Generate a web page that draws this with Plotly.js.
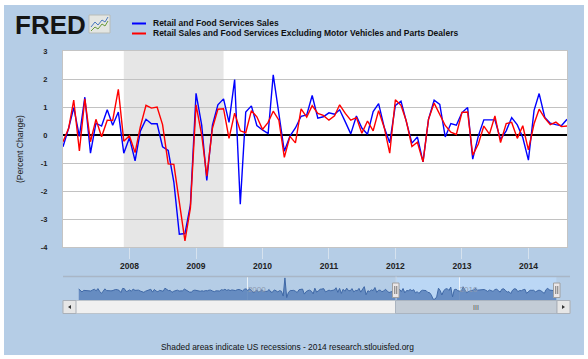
<!DOCTYPE html>
<html><head><meta charset="utf-8">
<script src="https://cdn.plot.ly/plotly-3.0.1.min.js"></script>
<style>
html,body{margin:0;padding:0;background:#fff;}
#wrap{position:absolute;left:0;top:0;width:588px;height:359px;background:#fff;overflow:hidden;}
#chart{position:absolute;left:4px;top:5px;width:580px;height:350px;}
</style></head><body><div id="wrap"><div id="chart"></div></div>
<script>
// ---- data (monthly percent change) ----
const startMonth = '2007-01';
const retailSales = [
 -0.42, 0.24, 0.98, -0.05, 1.35, -0.65, 0.42, 0.32, 0.9, 0.35, 0.82, -0.65,
 -0.1, -0.92, 0.14, 0.56, 0.4, 0.4, -0.42, -0.55, -1.68, -3.54, -3.52, -2.5,
 1.49, 0.35, -1.62, 0.35, 1.08, 1.29, 0.45, 1.98, -2.47, 0.82, 1.04, 0.34,
 0.18, 0.05, 2.15, 0.8, -0.58, -0.04, 0.25, 0.67, 0.72, 1.41, 0.6, 0.65,
 0.79, 0.74, 0.9, 0.47, 0.04, 0.68, 0.25, 0.03, 0.84, 1.12, 0.27, -0.28,
 1.06, 1.21, 0.5, -0.29, -0.07, -0.96, 0.56, 1.24, 1.09, -0.07, 0.41, 0.35,
 0.8, 0.98, -0.86, -0.03, 0.54, 0.53, 0.54, -0.16, 0.15, 0.62, 0.36, -0.09,
 -0.9, 0.88, 1.48, 0.63, 0.42, 0.37, 0.33, 0.56
];
const retailExAuto = [
 -0.24, 0.24, 1.25, -0.57, 1.29, -0.24, 0.56, -0.06, 0.53, 0.52, 1.63, -0.22,
 -0.03, -0.63, 0.3, 1.06, 0.96, 1.0, 0.37, -1.03, -1.05, -2.38, -3.78, -2.6,
 1.08, 0.0, -1.47, 0.24, 0.92, 0.94, -0.12, 0.78, 0.15, 0.08, 0.87, 0.65,
 0.2, 0.45, 0.85, 0.53, -0.8, -0.05, -0.28, 0.93, 0.64, 1.05, 0.77, 0.7,
 0.53, 0.69, 1.08, 0.77, 0.53, 0.62, 0.06, 0.5, 0.15, 0.87, 0.26, -0.65,
 1.26, 1.06, 0.5, -0.41, -0.26, -0.96, 0.56, 1.14, 0.73, 0.34, 0.1, 0.02,
 0.81, 0.82, -0.72, -0.32, 0.32, 0.03, 0.68, -0.27, 0.41, 0.45, -0.12, 0.33,
 -0.53, 0.4, 0.92, 0.6, 0.37, 0.46, 0.3, 0.32
];
// navigator history of the first series, Jan 1992 - Dec 2006
const navStartMonth = '1992-01';
const retailSalesHistory = [
 1.2, 0.6, -0.2, 0.5, 0.4, 0.6, 0.3, 0.2, 0.7, 1.0, 0.3, 1.3,
 0.0, -0.9, 0.1, 1.2, 0.4, 0.5, 0.3, 0.3, 0.6, 0.9, 0.8, 0.5,
 -0.5, 1.4, 1.3, 0.0, 0.2, 0.7, 0.1, 1.1, 0.5, 0.6, 0.6, 0.2,
 -0.3, -0.4, 0.1, 0.4, 0.5, 1.0, -0.3, 0.9, 0.2, -0.1, 0.5, 0.4,
 0.1, 1.5, 0.8, 0.4, 0.5, -0.4, 0.1, 0.3, 0.6, 0.2, 0.1, 0.3,
 1.1, 0.6, 0.2, -0.3, -0.3, 0.4, 0.6, 0.4, 0.2, 0.1, 0.3, 0.1,
 0.4, 0.3, 0.6, 0.6, 0.2, -0.1, 0.3, 0.4, 0.2, 0.8, 0.6, 1.0,
 0.5, 0.8, 0.4, 0.7, 0.6, 0.4, 0.8, 0.9, 0.6, 0.2, 1.0, 1.2,
 0.4, 1.3, 0.4, -0.4, -0.2, 0.7, -0.2, 0.1, 0.8, -0.1, 0.0, 0.1,
 0.9, -0.3, -0.3, 0.7, 0.3, -0.2, 0.4, 0.1, -2.1, 6.2, -2.8, -0.4,
 0.4, 0.6, 0.5, 0.1, -0.5, 0.8, 1.0, 1.1, -1.2, -0.1, 0.4, 0.6,
 0.1, -1.1, 1.5, -0.3, 0.3, 1.0, 1.1, 1.3, -0.2, 0.2, 0.6, 0.3,
 0.6, 0.7, 1.7, -0.4, 1.4, -0.9, 1.0, 0.1, 1.5, 0.4, 0.3, 1.3,
 -0.2, 0.5, 0.3, 1.4, -0.3, 1.0, 2.2, -1.5, 0.3, 0.0, 0.7, 0.4,
 1.8, -0.4, 0.5, 0.6, -0.1, 0.2, 1.0, 0.2, -0.5, -0.2, 0.0, 1.1
];
const seriesNames = ['Retail and Food Services Sales',
  'Retail Sales and Food Services Excluding Motor Vehicles and Parts Dealers'];
const yTicks = [-4, -3, -2, -1, 0, 1, 2, 3];
const yearTicks = ['2008', '2009', '2010', '2011', '2012', '2013', '2014'];
const navTicks = ['2000', '2010'];
const recession = ['2007-12-01', '2009-06-01'];
const viewEnd = '2014-08-01';

// ---- helpers ----
function monthSeq(start, n) {
  const p = start.split('-').map(Number), out = [];
  for (let i = 0; i < n; i++) {
    const mm = p[1] - 1 + i, yy = p[0] + Math.floor(mm / 12), mo = mm % 12 + 1;
    out.push(yy + '-' + String(mo).padStart(2, '0') + '-01');
  }
  return out;
}
const dates = monthSeq(startMonth, retailSales.length);
const navValues = retailSalesHistory.concat(retailSales);
const navDates = monthSeq(navStartMonth, navValues.length);
const navMin = -3.9, navMax = 6.6;

// page-pixel -> paper helpers for decorations
const W = 580, H = 350, ML = 59, MR = 17, MT = 46, MB = 40;
const PW = W - ML - MR, PH = H - MT - MB;
const px = x => (x - 4 - ML) / PW;
const py = y => (H - MB - (y - 5)) / PH;

const BG = '#b5cde6';
const FONT = 'Liberation Sans, Arial, sans-serif';

const traces = [
  {x: dates, y: retailSales, type: 'scatter', mode: 'lines', name: seriesNames[0],
   line: {color: '#0000ff', width: 1.4}, xaxis: 'x', yaxis: 'y', hoverinfo: 'x+y'},
  {x: dates, y: retailExAuto, type: 'scatter', mode: 'lines', name: seriesNames[1],
   line: {color: '#ff0000', width: 1.4}, xaxis: 'x', yaxis: 'y', hoverinfo: 'x+y'},
  {x: [navDates[0], navDates[navDates.length - 1]], y: [navMin, navMin], type: 'scatter',
   mode: 'lines', line: {width: 0, color: 'rgba(0,0,0,0)'}, xaxis: 'x2', yaxis: 'y2',
   hoverinfo: 'skip', showlegend: false},
  {x: navDates, y: navValues, type: 'scatter', mode: 'lines', fill: 'tonexty',
   fillcolor: 'rgba(88,128,186,0.85)', line: {color: '#3f68a6', width: 1},
   xaxis: 'x2', yaxis: 'y2', hoverinfo: 'skip', showlegend: false}
];

const shapes = [
  // main plot background
  {type: 'rect', xref: 'paper', yref: 'paper', x0: 0, x1: 1, y0: py(247), y1: 1,
   fillcolor: '#ffffff', line: {width: 0}, layer: 'below'},
  // recession shading
  {type: 'rect', xref: 'x', yref: 'y', x0: recession[0], x1: recession[1], y0: -4, y1: 3,
   fillcolor: '#e6e6e6', line: {width: 0}, layer: 'below'},
  // navigator selection highlight
  {type: 'rect', xref: 'x2', yref: 'paper', x0: dates[0], x1: viewEnd, y0: py(300), y1: py(277),
   fillcolor: 'rgba(190,218,250,0.75)', line: {width: 0}, layer: 'below'},
  // navigator outline
  {type: 'line', xref: 'paper', yref: 'paper', x0: px(63), x1: px(570), y0: py(276.5), y1: py(276.5),
   line: {color: '#a9b6c6', width: 1.5}},
  {type: 'line', xref: 'x2', yref: 'paper', x0: dates[0], x1: dates[0], y0: py(300), y1: py(276.5),
   line: {color: '#c9d6e6', width: 1}},
  // scrollbar track, thumb, buttons
  {type: 'rect', xref: 'paper', yref: 'paper', x0: px(63), x1: px(570), y0: py(313.5), y1: py(300.5),
   fillcolor: '#f0f0f0', line: {color: '#bcc4cc', width: 1}},
  {type: 'rect', xref: 'paper', yref: 'paper', x0: px(395.5), x1: px(557), y0: py(313.5), y1: py(300.5),
   fillcolor: '#c3ccd6', line: {color: '#aab4c0', width: 1}},
  {type: 'rect', xref: 'paper', yref: 'paper', x0: px(63), x1: px(76), y0: py(313.5), y1: py(300.5),
   fillcolor: '#e6e6e6', line: {color: '#aab0b8', width: 1}},
  {type: 'rect', xref: 'paper', yref: 'paper', x0: px(557), x1: px(570), y0: py(313.5), y1: py(300.5),
   fillcolor: '#e6e6e6', line: {color: '#aab0b8', width: 1}},
  {type: 'path', xref: 'paper', yref: 'paper',
   path: `M ${px(71)} ${py(305)} L ${px(68)} ${py(307)} L ${px(71)} ${py(309)} Z`,
   fillcolor: '#333', line: {width: 0}},
  {type: 'path', xref: 'paper', yref: 'paper',
   path: `M ${px(562)} ${py(305)} L ${px(565)} ${py(307)} L ${px(562)} ${py(309)} Z`,
   fillcolor: '#333', line: {width: 0}},
  // navigator handles
  {type: 'rect', xref: 'paper', yref: 'paper', x0: px(392.5), x1: px(399), y0: py(297.5), y1: py(283),
   fillcolor: '#ebe7e8', line: {color: '#a0a0a0', width: 1}},
  {type: 'rect', xref: 'paper', yref: 'paper', x0: px(553.5), x1: px(560), y0: py(297.5), y1: py(283),
   fillcolor: '#ebe7e8', line: {color: '#a0a0a0', width: 1}},
  // legend symbols
  {type: 'line', xref: 'paper', yref: 'paper', x0: px(132), x1: px(146), y0: py(23.5), y1: py(23.5),
   line: {color: '#0000ff', width: 2}},
  {type: 'line', xref: 'paper', yref: 'paper', x0: px(132), x1: px(146), y0: py(33.5), y1: py(33.5),
   line: {color: '#ff0000', width: 2}},
  // FRED icon
  {type: 'rect', xref: 'paper', yref: 'paper', x0: px(89), x1: px(110), y0: py(33), y1: py(15),
   fillcolor: '#e4e6e2', line: {color: '#b8bcb8', width: 1}},
  {type: 'path', xref: 'paper', yref: 'paper',
   path: `M ${px(91)} ${py(27)} L ${px(95)} ${py(22)} L ${px(98)} ${py(25)} L ${px(102)} ${py(20)} L ${px(105)} ${py(22)} L ${px(108)} ${py(17)}`,
   line: {color: '#4a78c0', width: 1}},
  {type: 'path', xref: 'paper', yref: 'paper',
   path: `M ${px(91)} ${py(31)} L ${px(95)} ${py(27)} L ${px(98)} ${py(29)} L ${px(102)} ${py(24)} L ${px(105)} ${py(26)} L ${px(108)} ${py(21)}`,
   line: {color: '#6a9a3a', width: 1}}
];
// handle grips
[[395.75], [556.75]].forEach(([cx]) => {
  shapes.push({type: 'line', xref: 'paper', yref: 'paper', x0: px(cx - 1), x1: px(cx - 1),
    y0: py(294), y1: py(286), line: {color: '#777', width: 1}});
  shapes.push({type: 'line', xref: 'paper', yref: 'paper', x0: px(cx + 1), x1: px(cx + 1),
    y0: py(294), y1: py(286), line: {color: '#777', width: 1}});
});

const annotations = [
  {xref: 'paper', yref: 'paper', x: px(13), y: py(24.5), xanchor: 'left', yanchor: 'middle',
   text: 'FRED', showarrow: false, font: {family: FONT, size: 26, color: '#141414', weight: 900}},
  {xref: 'paper', yref: 'paper', x: px(151), y: py(23), xanchor: 'left', yanchor: 'middle',
   text: seriesNames[0], showarrow: false, font: {family: FONT, size: 8.5, color: '#111', weight: 'bold'}},
  {xref: 'paper', yref: 'paper', x: px(151), y: py(32.5), xanchor: 'left', yanchor: 'middle',
   text: seriesNames[1], showarrow: false, font: {family: FONT, size: 8.5, color: '#111', weight: 'bold'}},
  {xref: 'paper', yref: 'paper', x: px(20), y: py(149), xanchor: 'center', yanchor: 'middle',
   text: '(Percent Change)', textangle: -90, showarrow: false, font: {family: FONT, size: 8.6, color: '#222'}},
  {xref: 'paper', yref: 'paper', x: px(287), y: py(346.5), xanchor: 'center', yanchor: 'middle',
   text: 'Shaded areas indicate US recessions - 2014 research.stlouisfed.org', showarrow: false,
   font: {family: FONT, size: 8.4, color: '#111'}},
  {xref: 'paper', yref: 'paper', x: px(476), y: py(307), xanchor: 'center', yanchor: 'middle',
   text: 'III', showarrow: false, font: {family: FONT, size: 7, color: '#555'}}
];

const layout = {
  width: W, height: H,
  margin: {l: ML, r: MR, t: MT, b: MB, pad: 0},
  paper_bgcolor: BG, plot_bgcolor: 'rgba(0,0,0,0)',
  showlegend: false,
  font: {family: FONT, size: 8, color: '#222'},
  xaxis: {
    type: 'date', domain: [0, 1], anchor: 'y', range: [dates[0], viewEnd],
    tickmode: 'array', tickvals: yearTicks.map(y => y + '-01-01'), ticktext: yearTicks,
    ticks: 'outside', ticklen: 11, tickcolor: '#d6e2ee', tickwidth: 1,
    showgrid: false, zeroline: false, showline: true, linecolor: '#c4c4c4', mirror: true,
    tickfont: {family: FONT, size: 8.5, color: '#222', weight: 'bold'}, fixedrange: true
  },
  yaxis: {
    domain: [py(247), 1], anchor: 'x', range: [-4, 3],
    tickmode: 'array', tickvals: yTicks, ticktext: yTicks.map(String),
    ticks: 'outside', ticklen: 13, tickcolor: 'rgba(0,0,0,0)',
    showgrid: true, gridcolor: '#c2c2c2', gridwidth: 1,
    zeroline: true, zerolinecolor: '#000000', zerolinewidth: 2.5,
    showline: true, linecolor: '#c4c4c4', mirror: true,
    tickfont: {family: FONT, size: 7.5, color: '#222', weight: 'bold'}, fixedrange: true
  },
  xaxis2: {
    type: 'date', domain: [px(78.5), px(556.6)], anchor: 'y2',
    range: [navDates[0], viewEnd],
    tickmode: 'array', tickvals: navTicks.map(y => y + '-01-01'), ticktext: navTicks,
    ticks: '', showgrid: true, gridcolor: 'rgba(255,255,255,0.75)', gridwidth: 1,
    zeroline: false, showline: false, ticklabelposition: 'inside right',
    tickfont: {family: FONT, size: 8, color: '#8d9bb0'}, fixedrange: true
  },
  yaxis2: {
    domain: [py(300), py(277)], anchor: 'x2', range: [navMin, navMax],
    showgrid: false, zeroline: false, showticklabels: false, ticks: '', showline: false, fixedrange: true
  },
  shapes: shapes,
  annotations: annotations
};

Plotly.newPlot('chart', traces, layout, {displayModeBar: false, staticPlot: true});
</script></body></html>
